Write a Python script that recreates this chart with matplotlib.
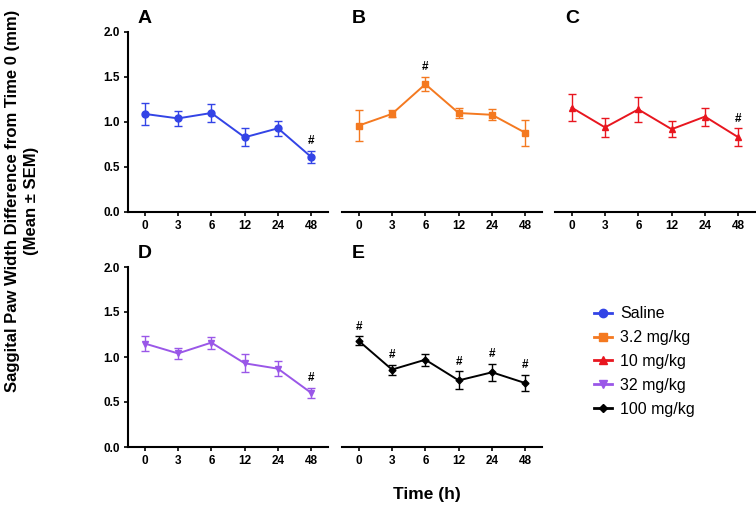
import numpy as np
import matplotlib.pyplot as plt
from matplotlib.lines import Line2D

plt.rcParams['font.family'] = ['Liberation Sans', 'DejaVu Sans']

times = ["0", "3", "6", "12", "24", "48"]

saline = [1.09, 1.04, 1.10, 0.83, 0.93, 0.61]
saline_err = [0.12, 0.08, 0.10, 0.10, 0.085, 0.07]
dose_3_2 = [0.96, 1.09, 1.42, 1.10, 1.08, 0.88]
dose_3_2_err = [0.175, 0.04, 0.08, 0.055, 0.06, 0.145]
dose_10 = [1.16, 0.94, 1.14, 0.92, 1.06, 0.83]
dose_10_err = [0.15, 0.105, 0.14, 0.09, 0.10, 0.10]
dose_32 = [1.15, 1.04, 1.16, 0.93, 0.87, 0.60]
dose_32_err = [0.08, 0.06, 0.066, 0.10, 0.085, 0.06]
dose_100 = [1.18, 0.86, 0.97, 0.74, 0.83, 0.71]
dose_100_err = [0.05, 0.055, 0.066, 0.10, 0.096, 0.092]

# which time points get a "#"
sig_a = [5]
sig_b = [2]
sig_c = [5]
sig_d = [5]
sig_e = [0, 1, 3, 4, 5]

panels = [
    ("A", saline, saline_err, sig_a, "#3344e6", "o", 5, "Saline"),
    ("B", dose_3_2, dose_3_2_err, sig_b, "#f47920", "s", 5, "3.2 mg/kg"),
    ("C", dose_10, dose_10_err, sig_c, "#e8161f", "^", 5, "10 mg/kg"),
    ("D", dose_32, dose_32_err, sig_d, "#9a57e8", "v", 5, "32 mg/kg"),
    ("E", dose_100, dose_100_err, sig_e, "#000000", "D", 3.5, "100 mg/kg"),
]

W, H = 756, 508
rects = [(128, 212), (342, 212), (555, 212), (128, 447), (342, 447)]

fig = plt.figure(figsize=(W / 100, H / 100), dpi=100)
x = np.arange(len(times))
handles = []
for (name, y, err, sig, color, marker, ms, label), (px, py) in zip(panels, rects):
    ax = fig.add_axes([px / W, 1 - py / H, 200 / W, 180 / H])
    ax.errorbar(x, y, yerr=err, color=color, marker=marker, markersize=ms,
                linewidth=1.4, elinewidth=1.0, capsize=3, capthick=1.0)
    handles.append(Line2D([], [], color=color, marker=marker, markersize=ms + 1,
                          linewidth=2, label=label))
    for i in sig:
        ax.text(x[i], y[i] + err[i] + 0.04, "#", ha="center", va="bottom",
                fontsize=8.5, fontweight="bold")
    ax.set_xlim(-0.5, 5.5)
    ax.set_ylim(0, 2.0)
    ax.set_xticks(x)
    ax.set_xticklabels(times, fontsize=8.5, fontweight="bold")
    ax.set_yticks([0, 0.5, 1.0, 1.5, 2.0])
    ax.set_yticklabels(["0.0", "0.5", "1.0", "1.5", "2.0"], fontsize=8.5, fontweight="bold")
    ax.tick_params(length=3, width=1.2, pad=3)
    for s in ["top", "right"]:
        ax.spines[s].set_visible(False)
    ax.spines["bottom"].set_linewidth(1.5)
    ax.spines["left"].set_linewidth(1.5)
    if name not in ("A", "D"):
        ax.spines["left"].set_visible(False)
        ax.tick_params(axis="y", left=False, labelleft=False)
    ax.text(0.05, 1.03, name, transform=ax.transAxes, fontsize=14,
            fontweight="bold", ha="left", va="bottom")

fig.legend(handles=handles, loc="upper left", bbox_to_anchor=(580 / W, 1 - 292 / H),
           frameon=False, fontsize=11.5, handlelength=1.1, labelspacing=0.55,
           handletextpad=0.5)

fig.text(427 / W, 1 - 494 / H, "Time (h)", ha="center", va="center",
         fontsize=12.5, fontweight="bold")
fig.text(22 / W, 1 - 201 / H, "Saggital Paw Width Difference from Time 0 (mm)\n(Mean \u00b1 SEM)",
         ha="center", va="center", rotation=90, fontsize=12, fontweight="bold",
         linespacing=1.3)

fig.savefig("out.png", dpi=100)
